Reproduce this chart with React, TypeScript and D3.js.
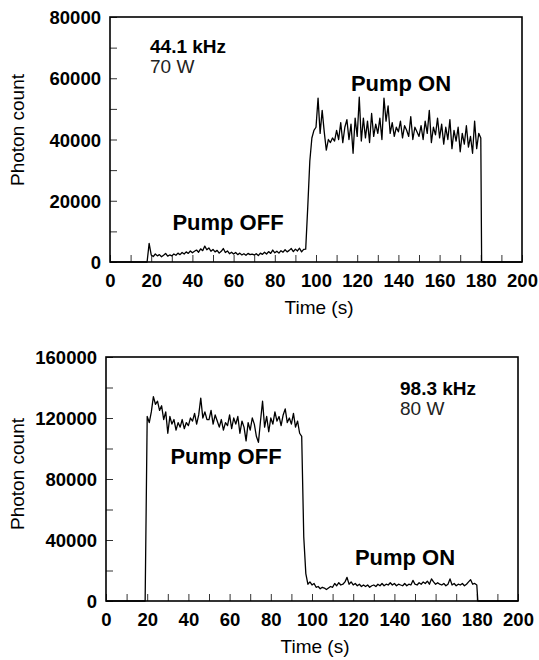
import React, { useEffect, useRef } from 'react';
import * as d3 from 'd3';

// one reading per second, first reading at topStart (s)
const topStart = 18;
const topCounts = [
  0, 6100,
  2300, 1800, 2600, 2000, 2400, 1700, 2200, 2800, 1900, 2300,
  2000, 2600, 2200, 2900, 2400, 3100, 2600, 3300, 2800, 3600,
  3000, 3500, 3900, 3200, 4300, 3700, 5200, 4000, 4600, 3500,
  4100, 3300, 3800, 2900, 3500, 4400, 3100, 3600, 2700, 3200,
  2600, 3100, 2400, 2900, 2300, 2700, 2200, 2800, 2400, 2600,
  2300, 2700, 2100, 2900, 2500, 3200, 2600, 3400, 2800, 3900,
  3000, 3500, 2900, 3700, 3200, 4000, 3300, 3800, 4400, 3400,
  4200, 3600, 4500, 3300, 4100, 4200, 18000, 33000, 40500, 43000,
  44000, 53500, 42000, 49500, 42500, 36500, 40000, 39000, 40500, 39500,
  43000, 40000, 45500, 39000, 44000, 46500, 40000, 45000, 35500, 47000,
  41000, 53800, 39500, 47000, 40500, 46000, 39000, 48500, 41000, 45000,
  42000, 47000, 40000, 53500, 46000, 51000, 42000, 45500, 41000, 44000,
  42500, 46000, 40500, 44500, 43000, 41000, 47500, 40000, 44000, 42500,
  41000, 44500, 40000, 46000, 42000, 49500, 39000, 44000, 41500, 47000,
  40500, 45000, 38500, 44000, 40000, 46500, 37000, 43000, 39500, 44000,
  36000, 42000, 38500, 44500, 37500, 41000, 35500, 46000, 37000, 42000,
  40500,
];
const topStop = 180.4;

const bottomStart = 19;
const bottomCounts = [
  0,
  121000, 117000, 124000, 134000, 129000, 131000, 125000, 128000, 119000, 124000,
  110000, 121000, 116000, 119000, 112000, 117000, 114000, 119000, 113000, 117000,
  115000, 120000, 118000, 123000, 116000, 122000, 133000, 120000, 124000, 119000,
  119000, 125000, 116000, 122000, 118000, 114000, 119000, 112000, 117000, 115000,
  122000, 113000, 120000, 116000, 121000, 110000, 118000, 114000, 105000, 117000,
  112000, 120000, 116000, 108000, 104000, 118000, 131000, 114000, 121000, 111000,
  120000, 116000, 124000, 118000, 121000, 115000, 122000, 126000, 117000, 120000,
  116000, 123000, 114000, 118000, 110000, 108000, 42000, 18000, 11000, 12500,
  10500, 11500, 9000, 9500, 8000, 9000, 8500, 7500, 8500, 9500,
  9000, 11500, 10000, 12000, 10500, 11000, 12500, 15500, 11000, 12500,
  10500, 11500, 10000, 11000, 9500, 10500, 9500, 10500, 9000, 10000,
  10500, 9500, 11000, 10000, 11500, 10000, 11000, 10500, 12000, 10500,
  11500, 10000, 11000, 10500, 10000, 11500, 10000, 11000, 10500, 13500,
  11000, 10500, 12000, 11000, 12500, 11500, 13000, 11000, 14500, 12500,
  11000, 12000, 11000, 10500, 11500, 10000, 11000, 14500, 10500, 11500,
  10000, 11000, 10500, 11500, 10000, 11000, 12500, 14000, 11000, 11500,
  10500,
];
const bottomStop = 180.5;

const timeTicks = d3.range(0, 201, 10);
const timeLabels = [0, 20, 40, 60, 80, 100, 120, 140, 160, 180, 200];
const topCountTicks = d3.range(0, 80001, 10000);
const topCountLabels = [0, 20000, 40000, 60000, 80000];
const bottomCountTicks = d3.range(0, 160001, 20000);
const bottomCountLabels = [0, 40000, 80000, 120000, 160000];

const FONT = "'Liberation Sans', Arial, Helvetica, sans-serif";

function toSeries(start: number, counts: number[], stop: number) {
  const pts = [{ t: 0, v: 0 }];
  counts.forEach((v, i) => pts.push({ t: start + i, v }));
  pts.push({ t: stop, v: 0 }, { t: 200, v: 0 });
  return pts;
}

function drawPanel(svg: any, p: any) {
  const x = d3.scaleLinear().domain([0, 200]).range([p.left, p.right]);
  const y = d3.scaleLinear().domain([0, p.yMax]).range([p.bottom, p.top]);
  const g = svg.append('g');

  const xAxis = d3.axisBottom(x)
    .tickValues(timeTicks)
    .tickSizeInner(-7)
    .tickSizeOuter(0)
    .tickPadding(12)
    .tickFormat((d: any) => (timeLabels.includes(d) ? String(d) : ''));
  const xg = g.append('g').attr('transform', `translate(0,${p.bottom})`).call(xAxis);

  const yAxis = d3.axisLeft(y)
    .tickValues(p.yTicks)
    .tickSizeInner(-7)
    .tickSizeOuter(0)
    .tickPadding(9)
    .tickFormat((d: any) => (p.yLabels.includes(d) ? String(d) : ''));
  const yg = g.append('g').attr('transform', `translate(${p.left},0)`).call(yAxis);

  [xg, yg].forEach((a: any) => {
    a.select('.domain').remove();
    a.attr('font-family', FONT).attr('font-size', 18.5).attr('font-weight', 'bold');
    a.selectAll('line').attr('stroke', '#333').attr('stroke-width', 1);
    a.selectAll('text').attr('fill', '#000');
  });
  yg.selectAll('text').attr('dy', '0.36em');

  const line = d3.line<any>().x((d) => x(d.t)).y((d) => y(d.v));
  g.append('path')
    .attr('d', line(p.series))
    .attr('fill', 'none')
    .attr('stroke', '#000')
    .attr('stroke-width', 1.3)
    .attr('stroke-linejoin', 'round');

  g.append('rect')
    .attr('x', p.left).attr('y', p.top)
    .attr('width', p.right - p.left).attr('height', p.bottom - p.top)
    .attr('fill', 'none').attr('stroke', '#000').attr('stroke-width', 1.6);

  g.append('text')
    .attr('transform', `translate(24,${p.labelY}) rotate(-90)`)
    .attr('text-anchor', 'middle')
    .attr('font-family', FONT).attr('font-size', 19)
    .text('Photon count');

  g.append('text')
    .attr('x', (p.left + p.right) / 2 + 3).attr('y', p.bottom + 52)
    .attr('text-anchor', 'middle')
    .attr('font-family', FONT).attr('font-size', 19)
    .text('Time (s)');

  g.append('text')
    .attr('x', p.freqX).attr('y', p.freqY)
    .attr('font-family', FONT).attr('font-size', 19).attr('font-weight', 'bold')
    .text(p.freq);
  g.append('text')
    .attr('x', p.freqX).attr('y', p.freqY + 20)
    .attr('font-family', FONT).attr('font-size', 19).attr('fill', '#222')
    .text(p.power);

  p.notes.forEach((n: any) => {
    g.append('text')
      .attr('x', n.x).attr('y', n.y)
      .attr('text-anchor', 'middle')
      .attr('font-family', FONT).attr('font-size', 22).attr('font-weight', 'bold')
      .text(n.text);
  });
}

export default function App() {
  const ref = useRef<SVGSVGElement>(null);

  useEffect(() => {
    const svg = d3.select(ref.current);
    svg.selectAll('*').remove();
    drawPanel(svg, {
      left: 110, right: 522, top: 17, bottom: 262,
      yMax: 80000, yTicks: topCountTicks, yLabels: topCountLabels,
      series: toSeries(topStart, topCounts, topStop),
      labelY: 130,
      freq: '44.1 kHz', power: '70 W', freqX: 150, freqY: 53,
      notes: [
        { text: 'Pump ON', x: 401, y: 91 },
        { text: 'Pump OFF', x: 228, y: 230 },
      ],
    });
    drawPanel(svg, {
      left: 106, right: 518, top: 357, bottom: 601,
      yMax: 160000, yTicks: bottomCountTicks, yLabels: bottomCountLabels,
      series: toSeries(bottomStart, bottomCounts, bottomStop),
      labelY: 474,
      freq: '98.3 kHz', power: '80 W', freqX: 400, freqY: 395,
      notes: [
        { text: 'Pump OFF', x: 226, y: 464 },
        { text: 'Pump ON', x: 405, y: 565 },
      ],
    });
  }, []);

  return (
    <svg
      ref={ref}
      width={539}
      height={660}
      style={{ position: 'absolute', left: 0, top: 0, background: '#fff' }}
    />
  );
}
